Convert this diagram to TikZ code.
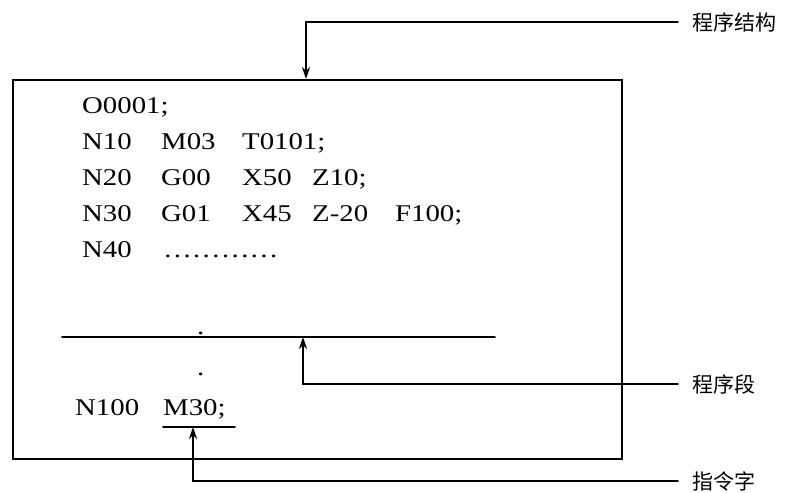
\documentclass[tikz,border=0pt]{standalone}
\usepackage{fontspec}
\setmainfont{Liberation Serif}[FakeStretch=1.2]
\newfontfamily\cjk{Noto Sans CJK SC}
\usetikzlibrary{arrows.meta,positioning}

\tikzset{>={Stealth[length=12pt,width=8pt]},
  wire/.style={line width=1.8pt},
  code/.style={anchor=base west, inner sep=0pt, font=\fontsize{24}{24}\selectfont},
  tag/.style={anchor=west, inner xsep=14pt, inner ysep=0pt, font=\cjk\fontsize{21}{21}\selectfont}}

\newcommand{\col}[2]{\makebox[#1pt][l]{#2}}

\begin{document}
\begin{tikzpicture}[x=1pt,y=-1pt,line cap=round]
    \useasboundingbox (0,0) rectangle (788,493);

    % program box
    \node[draw, wire, anchor=north west, minimum width=609pt, minimum height=379pt, inner sep=0pt] (prog) at (12,79) {};

    % program lines
    \node[code] (row1) at (82,113) {O0001;};
    \node[code] (row2) at (82,149) {\col{79}{N10}\col{81}{M03}T0101;};
    \node[code] (row3) at (82,185) {\col{79}{N20}\col{81}{G00}\col{70}{X50}Z10;};
    \node[code] (row4) at (82,221) {\col{79}{N30}\col{81}{G01}\col{70}{X45}\col{83}{Z-20}F100;};
    \node[code] (row5) at (82,257) {\col{81}{N40}…………};
    \node[code] (dotA) at (197,334) {.};
    \node[code] (dotB) at (197,375) {.};
    \node[code] (rowend) at (75,415) {\col{88}{N100}M30;};

    % segment line and word underline
    \coordinate (segL) at (62,337);
    \coordinate (segR) at (495,337);
    \coordinate (segpt) at (303,337);
    \draw[wire] (segL) -- (segR);

    \coordinate (wordL) at (163,427);
    \coordinate (wordR) at (235,427);
    \coordinate (wordpt) at (193,427);
    \draw[wire] (wordL) -- (wordR);

    \coordinate (toppt) at (306,79);

    % labels
    \node[tag] (jiegou) at (678,22) {程序结构};
    \node[tag] (duan) at (678,384) {程序段};
    \node[tag] (zhiling) at (678,481) {指令字};

    \draw[wire,->] (jiegou.west) -| (toppt);
    \draw[wire,->] (duan.west) -| (segpt);
    \draw[wire,->] (zhiling.west) -| (wordpt);

\end{tikzpicture}
\end{document}
